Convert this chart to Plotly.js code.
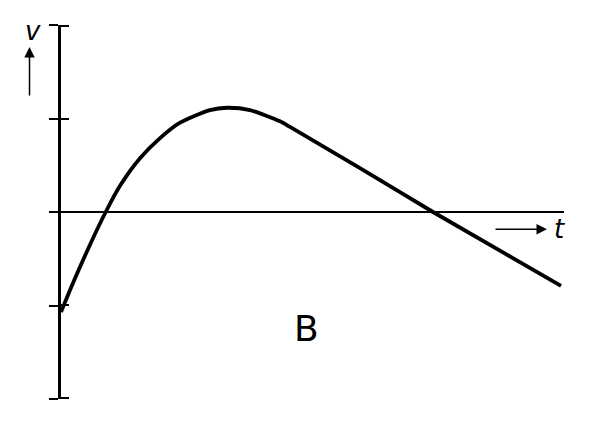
<!DOCTYPE html>
<html>
<head>
<meta charset="utf-8">
<script src="https://cdn.plot.ly/plotly-3.0.1.min.js"></script>
<style>
  html, body { margin:0; padding:0; background:#fff; }
  #chart { width:589px; height:424px; }
</style>
</head>
<body>
<div id="chart"></div>
<script>
// velocity vs time
var tValues = [0, 0.12, 0.29, 0.447, 0.59, 0.79, 0.99, 1.19, 1.49, 1.66, 1.89, 2.19, 2.29, 2.99, 3.72, 5.0];
var vValues = [-1.07, -0.76, -0.35, 0, 0.28, 0.575, 0.79, 0.955, 1.09, 1.115, 1.09, 0.97, 0.91, 0.47, 0, -0.79];
var yTicks = [-2, -1, 0, 1, 2];
var yInnerTicks = [-2, -1, 1, 2];
var panelLabel = 'B';
var xLabel = 't';
var yLabel = 'v';

var curve = {
    x: tValues,
    y: vValues,
    mode: 'lines',
    line: {color: '#000', width: 3.8, shape: 'spline', smoothing: 0.7},
    hoverinfo: 'skip'
};
// second (empty) trace so the inner half of the y ticks can be drawn
var ghost = {x: [0], y: [0], yaxis: 'y2', mode: 'markers', marker: {opacity: 0}, hoverinfo: 'skip'};

var layout = {
    width: 589,
    height: 424,
    margin: {l: 61, r: 25, t: 25, b: 25},
    showlegend: false,
    plot_bgcolor: '#fff',
    paper_bgcolor: '#fff',
    xaxis: {
        range: [0, 5.03],
        showgrid: false,
        zeroline: false,
        showline: false,
        showticklabels: false,
        ticks: ''
    },
    yaxis: {
        range: [-2, 2],
        showgrid: false,
        zeroline: true,
        zerolinecolor: '#000',
        zerolinewidth: 2.5,
        showline: true,
        linecolor: '#000',
        linewidth: 3,
        ticks: 'outside',
        tickvals: yTicks,
        ticklen: 9,
        tickwidth: 2,
        tickcolor: '#000',
        showticklabels: false
    },
    yaxis2: {
        // a hair wider so the end ticks are not clipped away
        range: [-2.013, 2.013],
        overlaying: 'y',
        side: 'left',
        showgrid: false,
        zeroline: false,
        showline: false,
        ticks: 'inside',
        tickvals: yInnerTicks,
        ticklen: 8,
        tickwidth: 2,
        tickcolor: '#000',
        showticklabels: false
    },
    annotations: [
        {x: 4.86, y: -0.185, ax: 4.33, ay: -0.185, xref: 'x', yref: 'y', axref: 'x', ayref: 'y',
         text: '', showarrow: true, arrowhead: 2, arrowsize: 1.4, arrowwidth: 1.5, arrowcolor: '#000', standoff: 0},
        {x: -0.0626, y: 0.941, ax: 0, ay: 50, xref: 'paper', yref: 'paper',
         text: '', showarrow: true, arrowhead: 2, arrowsize: 1.4, arrowwidth: 1.5, arrowcolor: '#000', standoff: 0},
        {x: 4.98, y: -0.18, xref: 'x', yref: 'y', text: '<i>' + xLabel + '</i>', showarrow: false,
         font: {family: 'DejaVu Sans', size: 26, color: '#000'}},
        {x: -0.0557, y: 0.985, xref: 'paper', yref: 'paper', xanchor: 'center', yanchor: 'middle',
         text: '<i>' + yLabel + '</i>', showarrow: false,
         font: {family: 'DejaVu Sans', size: 26, color: '#000'}},
        {x: 2.45, y: -1.25, xref: 'x', yref: 'y', text: panelLabel, showarrow: false,
         font: {family: 'DejaVu Sans', size: 36, color: '#000'}}
    ]
};

Plotly.newPlot('chart', [curve, ghost], layout, {displayModeBar: false, staticPlot: true});
</script>
</body>
</html>
